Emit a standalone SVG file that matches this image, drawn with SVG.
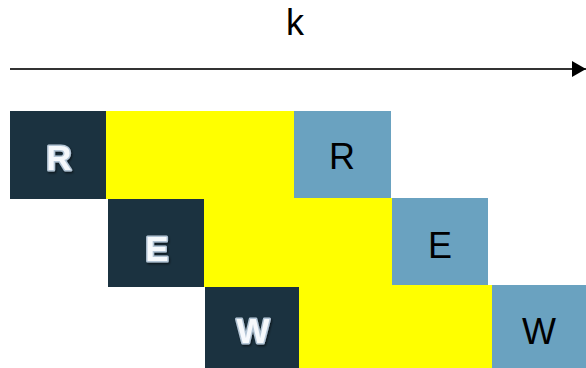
<svg xmlns="http://www.w3.org/2000/svg" width="586" height="368" viewBox="0 0 586 368">
<style>
.dark{fill:#1b3240}
.yel{fill:#ffff00}
.blue{fill:#6aa2c0}
.lt{font-family:"Liberation Sans",Arial,sans-serif;font-size:35px;font-weight:bold;fill:#f6f9fc;stroke:#b3c5d5;stroke-width:3;stroke-linejoin:round;paint-order:stroke;text-anchor:middle;filter:url(#sh)}
.bt{font-family:"Liberation Sans",Arial,sans-serif;font-size:36px;fill:#000;text-anchor:middle}
</style>
<defs>
<filter id="sh" x="-30%" y="-30%" width="160%" height="160%">
<feDropShadow dx="1" dy="1.5" stdDeviation="1" flood-color="#000" flood-opacity="0.6"/>
</filter>
<marker id="ah" markerWidth="14" markerHeight="16" refX="14" refY="8" orient="auto" markerUnits="userSpaceOnUse">
<path d="M0,0 L14,8 L0,16 Z" fill="#000"/>
</marker>
</defs>
<g id="connectors">
<line x1="10" y1="69" x2="586" y2="69" stroke="#333" stroke-width="2" marker-end="url(#ah)"/>
</g>
<text x="295" y="35" font-family="Liberation Sans,Arial,sans-serif" font-size="36" text-anchor="middle" fill="#000">k</text>
<g id="row1">
<rect class="dark" x="10" y="111" width="96" height="88"/>
<rect class="yel" x="106" y="111" width="188" height="88"/>
<rect class="blue" x="294" y="111" width="97" height="87"/>
<text class="lt" x="59" y="170">R</text>
<text class="bt" x="342" y="169">R</text>
</g>
<g id="row2">
<rect class="dark" x="108" y="199" width="96" height="88"/>
<rect class="yel" x="204" y="198" width="188" height="89"/>
<rect class="blue" x="392" y="198" width="96" height="87"/>
<text class="lt" x="157" y="261">E</text>
<text class="bt" x="440" y="258">E</text>
</g>
<g id="row3">
<rect class="dark" x="205" y="287" width="94" height="81"/>
<rect class="yel" x="299" y="285" width="193" height="83"/>
<rect class="blue" x="492" y="285" width="94" height="83"/>
<text class="lt" x="253" y="343">W</text>
<text class="bt" x="539" y="344">W</text>
</g>
</svg>
